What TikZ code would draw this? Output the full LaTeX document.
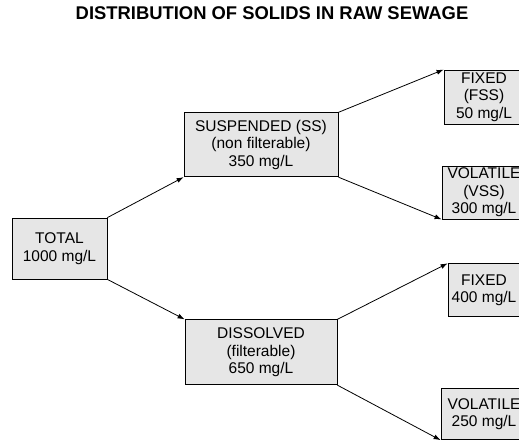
\documentclass[tikz,border=0pt]{standalone}
\usepackage{fontspec}
\setmainfont{Liberation Sans}
\usetikzlibrary{arrows.meta}
\definecolor{boxgray}{HTML}{E6E6E6}

\begin{document}
\begin{tikzpicture}
    [
        x = 1pt, y = 1pt,
        grow' = right,
        box/.style = {draw, line width = 0.8pt, fill = boxgray, align = center, inner sep = 2pt,
                      font = \fontsize{15.5}{17.5}\selectfont},
        flow/.style = {line width = 0.8pt, -{Latex[length = 7pt, width = 5pt]}},
        edge from parent/.style = {draw = none},
        level 1/.style = {sibling distance = 207.5pt, level distance = 201.5pt},
        level 2/.style = {sibling distance = 95.5pt, level distance = 223pt}
    ]

        \useasboundingbox (0,0) rectangle (519,-447);

        \node[font = \fontsize{18.4}{21}\selectfont\bfseries] (title) at (272,-13.5)
            {DISTRIBUTION OF SOLIDS IN RAW SEWAGE};

        \node[box, minimum width = 95pt, minimum height = 61pt] (total) at (59.5,-248.5)
            {TOTAL\\1000 mg/L}
        child {
            node[box, minimum width = 154pt, minimum height = 64pt] (ss)
                {SUSPENDED (SS)\\(non filterable)\\350 mg/L}
            child {
                node[box, minimum width = 80pt, minimum height = 54pt] (fss)
                    {FIXED\\(FSS)\\50 mg/L}
            }
            child {
                node[box, minimum width = 84pt, minimum height = 53pt] (vss)
                    {VOLATILE\\(VSS)\\300 mg/L}
            }
        }
        child {
            node[box, minimum width = 152pt, minimum height = 65pt] (ds)
                {DISSOLVED\\(filterable)\\650 mg/L}
            child[sibling distance = 124pt] {
                node[box, minimum width = 72pt, minimum height = 53pt] (fds)
                    {FIXED\\400 mg/L}
            }
            child[sibling distance = 124pt] {
                node[box, minimum width = 86pt, minimum height = 51pt] (vds)
                    {VOLATILE\\250 mg/L}
            }
        };

        \draw[flow] (total.north east) -- (ss.south west);
        \draw[flow] (total.south east) -- (ds.north west);
        \draw[flow] (ss.north east) -- (fss.north west);
        \draw[flow] (ss.south east) -- (vss.south west);
        \draw[flow] (ds.north east) -- (fds.north west);
        \draw[flow] (ds.south east) -- (vds.south west);
    \end{tikzpicture}
\end{document}
